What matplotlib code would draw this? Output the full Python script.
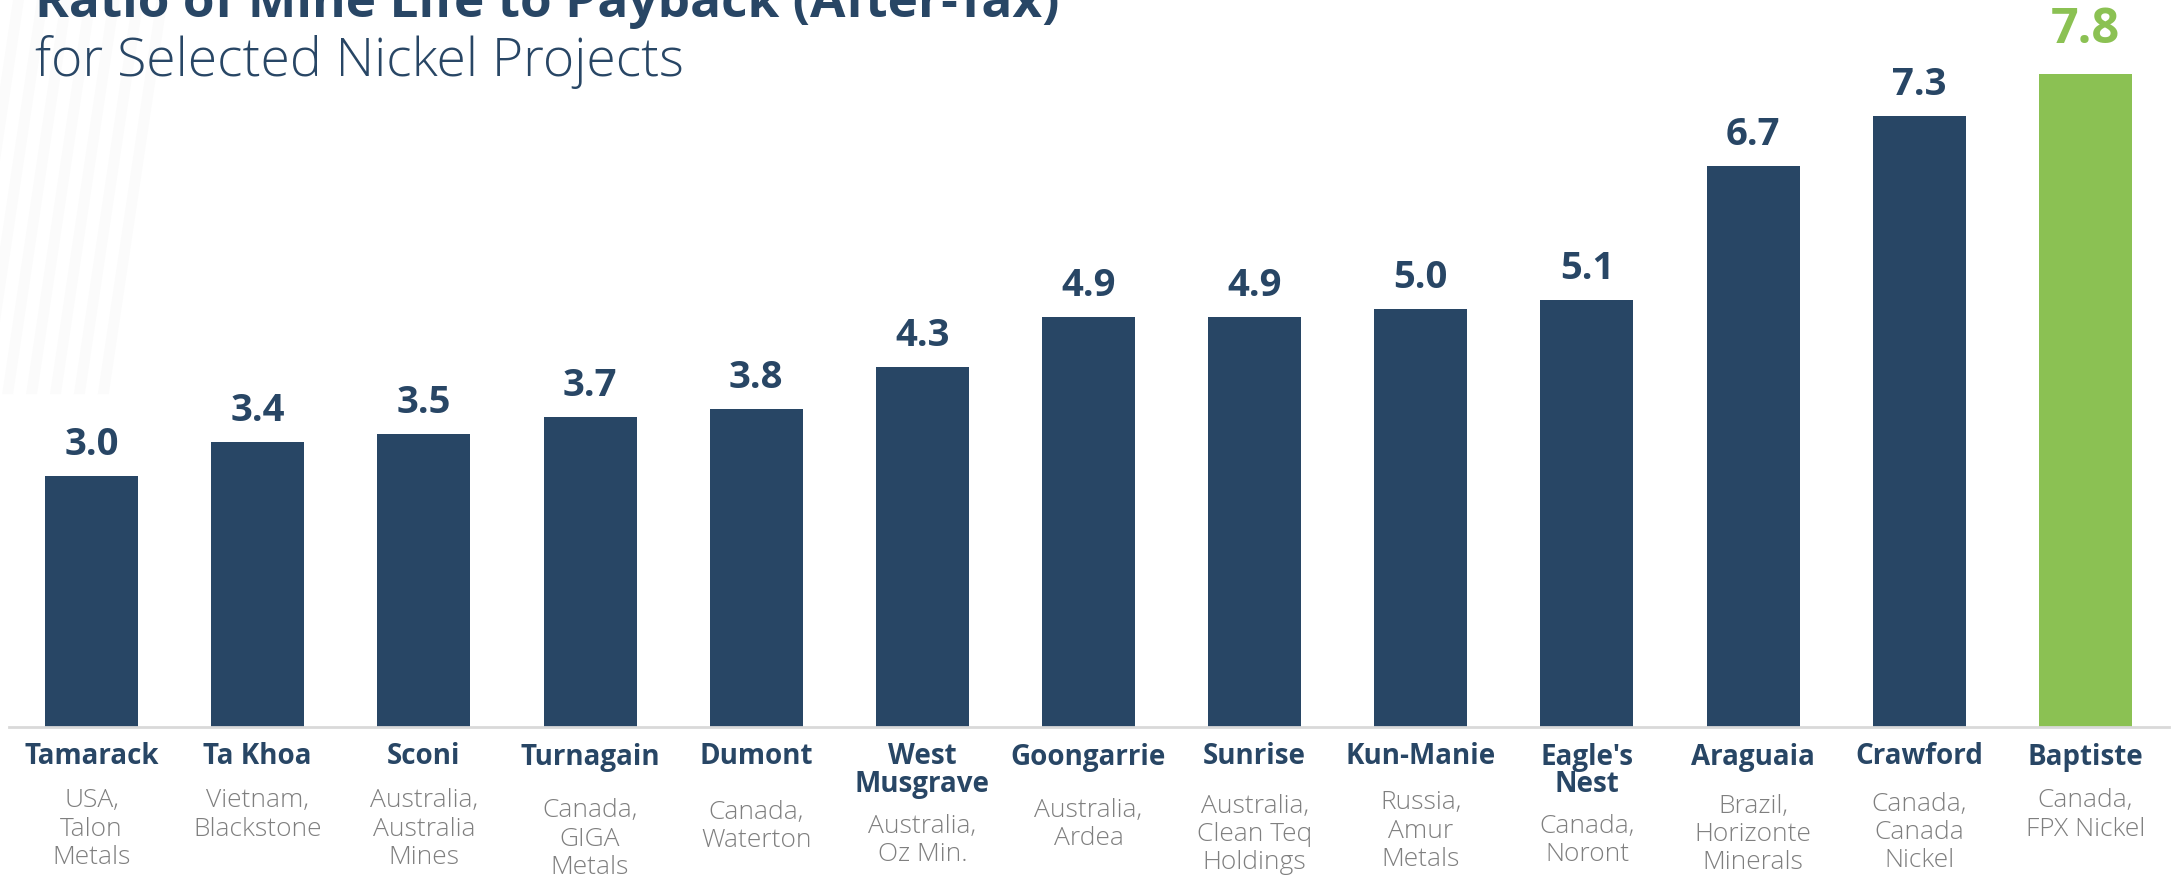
import matplotlib
matplotlib.use("Agg")
import matplotlib.pyplot as plt
import matplotlib.transforms as mtransforms
from matplotlib.patches import Polygon

# ---------------- data ----------------
projects = ["Tamarack", "Ta Khoa", "Sconi", "Turnagain", "Dumont", "West\nMusgrave",
            "Goongarrie", "Sunrise", "Kun-Manie", "Eagle's\nNest", "Araguaia",
            "Crawford", "Baptiste"]
owners = ["USA,\nTalon\nMetals", "Vietnam,\nBlackstone", "Australia,\nAustralia\nMines",
          "Canada,\nGIGA\nMetals", "Canada,\nWaterton", "Australia,\nOz Min.",
          "Australia,\nArdea", "Australia,\nClean Teq\nHoldings", "Russia,\nAmur\nMetals",
          "Canada,\nNoront", "Brazil,\nHorizonte\nMinerals", "Canada,\nCanada\nNickel",
          "Canada,\nFPX Nickel"]
ratios = [3.0, 3.4, 3.5, 3.7, 3.8, 4.3, 4.9, 4.9, 5.0, 5.1, 6.7, 7.3, 7.8]

# ---------------- style ----------------
W, H = 2174, 876
NAVY = "#284665"
GREEN = "#8BC153"
GRAY = "#7F7F7F"
BOLD = ["Open Sans", "DejaVu Sans"]
LIGHT = ["Open Sans", "DejaVu Sans"]
# first-line centre (px from top) of each owner label
owner_y_px = [801, 801, 801, 811, 812, 826, 810, 806, 803, 826, 806, 804, 801]

fig = plt.figure(figsize=(W / 100, H / 100), dpi=100)
fig.patch.set_facecolor("white")

# very faint decorative stripes top-left (background)
bg = fig.add_axes([0, 0, 1, 1], zorder=-10)
bg.set_xlim(0, 1)
bg.set_ylim(0, 1)
bg.axis("off")
for i in range(7):
    x0 = 0.006 + i * 0.011
    bg.add_patch(Polygon([[x0, 1.0], [x0 + 0.005, 1.0], [x0 - 0.022, 0.55], [x0 - 0.027, 0.55]],
                         closed=True, facecolor="#FBFBFB", edgecolor="none"))

ax = fig.add_axes([8.5 / W, 1 - 727 / H, 2160 / W, 727 / H])
ax.set_facecolor("none")
x = list(range(len(projects)))
colors = [NAVY] * (len(projects) - 1) + [GREEN]
ax.bar(x, ratios, width=0.56, color=colors, zorder=2)
ax.set_xlim(-0.5, len(projects) - 0.5)
ax.set_ylim(0, 727 / 83.7)
for s in ["top", "right", "left"]:
    ax.spines[s].set_visible(False)
ax.spines["bottom"].set_color("#D9D9D9")
ax.spines["bottom"].set_linewidth(2)
ax.set_xticks([])
ax.set_yticks([])

# value labels
for i, v in enumerate(ratios):
    last = i == len(ratios) - 1
    ax.annotate(f"{v:.1f}", (i, v), xytext=(0, 19 if last else 12), textcoords="offset pixels",
                ha="center", va="bottom", fontsize=35 if last else 27.5,
                fontweight="bold", color=GREEN if last else NAVY, family=BOLD)

# category labels
trans = mtransforms.blended_transform_factory(ax.transData, fig.transFigure)
for i, (name, own) in enumerate(zip(projects, owners)):
    for k, line in enumerate(name.split("\n")):
        ypx = 757 + k * 27.7
        ax.text(i, 1 - ypx / H, line, transform=trans, ha="center", va="center",
                fontsize=20, fontweight="bold", color=NAVY, family=BOLD)
    for k, line in enumerate(own.split("\n")):
        ypx = owner_y_px[i] + k * 28.4
        ax.text(i, 1 - ypx / H, line, transform=trans, ha="center", va="center",
                fontsize=19, fontweight="light", color=GRAY, family=LIGHT)

# titles
fig.text(35 / W, 1 - 17 / H, "Ratio of Mine Life to Payback (After-Tax)", ha="left",
         va="baseline", fontsize=37, fontweight="bold", color=NAVY, family=BOLD)
fig.text(35 / W, 1 - 76 / H, "for Selected Nickel Projects", ha="left",
         va="baseline", fontsize=38.5, fontweight="light", color=NAVY, family=LIGHT)

fig.savefig("out.png", dpi=100)
